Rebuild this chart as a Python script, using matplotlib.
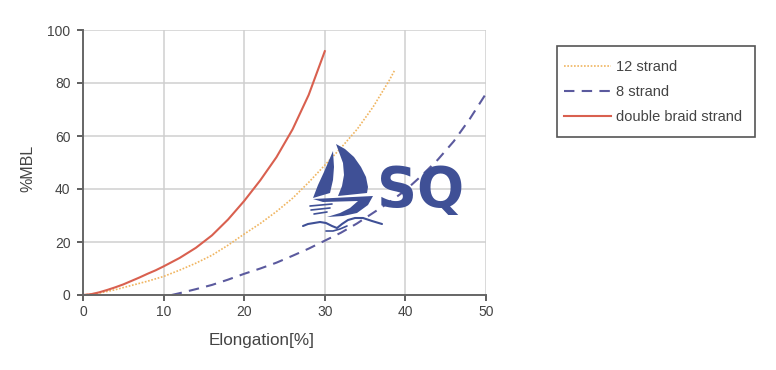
"""Elongation vs %MBL curves for three rope constructions, with the SQ logo on top."""

import matplotlib
matplotlib.use("Agg")
import matplotlib.pyplot as plt  # noqa: E402
from matplotlib.patches import PathPatch, Polygon, Rectangle  # noqa: E402
from matplotlib.path import Path  # noqa: E402
from matplotlib.transforms import Affine2D  # noqa: E402

W, H = 776, 370

x_12 = [0, 2, 4, 6, 8, 10, 12, 14, 16, 18, 20, 22, 24, 26, 28, 30, 32, 34, 36, 38, 38.7]
y_12 = [0, 0.7, 2, 3.6, 5.2, 7, 9.4, 12, 15, 18.8, 23, 27, 31.5, 36.5, 42.5, 49, 55.5, 62.5, 71, 81, 85]
x_8 = [11, 12, 14, 16, 18, 20, 22, 24, 26, 28, 30, 32, 34, 36, 38, 40, 42, 44, 46, 48, 50]
y_8 = [0, 0.7, 2.2, 3.8, 5.8, 8, 10, 12.2, 14.8, 17.5, 20.5, 23.5, 27, 31, 35, 39.5, 45, 51, 58, 66.5, 76]
x_db = [0, 1, 2, 3, 4, 5, 6, 7, 8, 9, 10, 12, 14, 16, 18, 20, 22, 24, 26, 28, 30]
y_db = [0, 0.3, 1, 1.9, 2.9, 4, 5.3, 6.6, 8, 9.3, 10.8, 14, 17.8, 22.5, 28.5, 35.5, 43.3, 52, 62.5, 75.5, 92]

xticks = [0, 10, 20, 30, 40, 50]
yticks = [0, 20, 40, 60, 80, 100]

TEXT = "#444444"
LOGO = "#3f5096"

plt.rcParams["font.family"] = ["Liberation Sans", "DejaVu Sans"]

fig = plt.figure(figsize=(W / 100, H / 100), dpi=100)
ax = fig.add_axes([83 / W, 1 - 295 / H, 403 / W, 265 / H])

ax.plot(x_12, y_12, color="#f0b560", lw=1.2, ls=(0, (1, 1)), label="12 strand", clip_on=False)
ax.plot(x_8, y_8, color="#5b5a9e", lw=1.5, ls=(0, (5, 3.5)), label="8 strand", clip_on=False)
ax.plot(x_db, y_db, color="#d9604f", lw=1.5, label="double braid strand", clip_on=False)

ax.set_xlim(0, 50)
ax.set_ylim(0, 100)
ax.set_xticks(xticks)
ax.set_yticks(yticks)
ax.grid(color="#cfcfcf", lw=1.1)
ax.set_axisbelow(True)
ax.tick_params(colors=TEXT, labelsize=10, length=4, width=1.2)
ax.tick_params(axis="x", pad=3.5)
ax.tick_params(axis="y", pad=5)
for name in ("top", "right"):
    ax.spines[name].set_visible(False)
for name in ("left", "bottom"):
    ax.spines[name].set_color("#666666")
    ax.spines[name].set_linewidth(1.4)
ax.set_xlabel("Elongation[%]", fontsize=12.3, color=TEXT)
ax.xaxis.set_label_coords((262 - 83) / 403, (295 - 341) / 265)
ax.xaxis.label.set_va("center")
ax.set_ylabel("%MBL", fontsize=11.5, color=TEXT)
ax.yaxis.set_label_coords((28 - 83) / 403, (295 - 168) / 265)
ax.yaxis.label.set_va("center")

# px: pixels of the picture, y down
px = Affine2D().scale(1, -1).translate(0, H) + Affine2D().scale(1 / W, 1 / H) + fig.transFigure

# frame goes under the axes so the legend stays visible
fig.add_artist(Rectangle((557, 46), 198, 91, transform=px, fc="white", ec="#555555", lw=1.2, zorder=-1))
leg = ax.legend(loc="upper left", bbox_to_anchor=(564 / W, 1 - 60 / H),
                bbox_transform=fig.transFigure, fontsize=10.5, frameon=False,
                labelcolor=TEXT, borderaxespad=0, borderpad=0,
                handlelength=3.2, handletextpad=0.35, labelspacing=0.75)
leg.set_in_layout(False)


def logo_poly(points):
    fig.add_artist(Polygon(points, closed=True, fc=LOGO, ec="none", transform=px, zorder=5))


def logo_stroke(points, lw):
    codes = [Path.MOVETO] + [Path.LINETO] * (len(points) - 1)
    fig.add_artist(PathPatch(Path(points, codes), fc="none", ec=LOGO, lw=lw,
                             transform=px, zorder=5, capstyle="round", joinstyle="round"))


# sails and hull
logo_poly([(336, 144), (345, 149), (354, 157), (361, 167), (366, 177), (368, 187), (367, 193),
           (338, 196), (342, 186), (344, 175), (343, 163)])
logo_poly([(333, 151), (334, 167), (333, 180), (330, 193), (313, 198), (318, 185), (324, 172)])
logo_poly([(313, 199), (373, 196), (368, 205), (357, 213), (343, 216), (327, 217), (340, 213),
           (350, 208), (358, 201), (323, 202)])
logo_stroke([(310, 206), (332, 204)], 1.2)
logo_stroke([(311, 210), (330, 208)], 1.2)
logo_stroke([(314, 214), (327, 212)], 1.2)
# waves
logo_stroke([(303, 226), (308, 224), (314, 223), (320, 222), (326, 223), (332, 226), (337, 228),
             (342, 224), (348, 220), (355, 218), (363, 218), (372, 221), (382, 224)], 1.5)
logo_stroke([(326, 231), (333, 231), (340, 229), (347, 226)], 1.2)

fig.text(421 / W, 1 - 191 / H, "SQ", fontsize=40, fontweight="bold", color=LOGO,
         ha="center", va="center", zorder=5, family=["DejaVu Sans"])

fig.savefig("out.png", dpi=100)
